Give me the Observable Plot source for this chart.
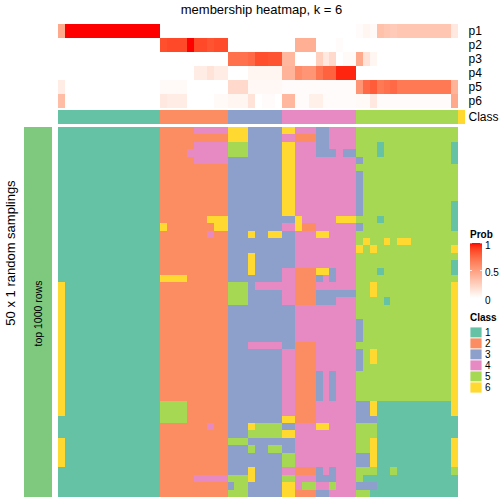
<!DOCTYPE html>
<html><head><meta charset="utf-8">
<script src="https://cdn.jsdelivr.net/npm/d3@7"></script>
<script src="https://cdn.jsdelivr.net/npm/@observablehq/plot@0.6"></script>
<style>
html,body{margin:0;padding:0;background:#fff;}
#root{position:relative;width:504px;height:504px;overflow:hidden;font-family:"Liberation Sans",Arial,sans-serif;}
</style></head><body><div id="root"></div>
<script>
const title = "membership heatmap, k = 6";
const rowTitle = "50 x 1 random samplings";
const sliceTitle = "top 1000 rows";
const probRows = ["p1","p2","p3","p4","p5","p6"];
const classes = ["1","2","3","4","5","6"];
const classColors = ["#66C2A5","#FC8D62","#8DA0CB","#E78AC3","#A6D854","#FFD92F"];
const probTicks = [0, 0.5, 1];
const sampleClass = "111111111111111222222222233333333444444444445555555555555556";

const p1 = [0.45,1,1,1,1,1,1,1,1,1,1,1,1,1,1,
  0,0,0,0,0,0,0,0,0,0,0,0,0,0,0,0,0,0,0,0,0,0,0,0,0,0,0,0,0,
  0.02,0.05,0.03,0.33,0.3,0.28,0.3,0.3,0.3,0.3,0.3,0.3,0.3,0.3,0.12];
const p2 = [0,0,0,0,0,0,0,0,0,0,0,0,0,0,0,
  0.85,0.87,0.87,0.87,1,0.87,0.87,0.83,0.86,0.86,
  0,0,0,0,0,0,0,0,0,0,
  0.42,0.42,0.42,0,0,0,0.02,
  0,0,0,0,0,0,0,0,0,0,0,0,0,0,0,0,0];
const p3 = [0,0,0,0,0,0,0,0,0,0,0,0,0,0,0,0,0,0,0,0,0,0,0,0,0,
  0.72,0.72,0.72,0.75,0.85,0.85,0.83,0.83,
  0.38,0.38,0,0,0,0.25,0.12,0.2,0,0.03,0.03,
  0.45,0.15,0.05,0,0,0,0,0,0,0,0,0,0,0,0];
const p4 = [0,0,0,0,0,0,0,0,0,0,0,0,0,0,0,0,0,0,0,0,
  0.1,0.1,0.15,0.1,0.1,0,0,0,0.05,0.05,0.05,0.05,0.05,
  0.4,0.4,0.6,0.55,0.55,0.7,0.78,0.78,0.96,0.96,0.96,
  0,0,0,0,0,0,0,0,0,0,0,0,0,0,0];
const p5 = [0.1,0,0,0,0,0,0,0,0,0,0,0,0,0,0,
  0.03,0.03,0.03,0.03,0,0,0,0,0,0,
  0.2,0.2,0.2,0.04,0.04,0.04,0.04,0.04,
  0.02,0.02,0.02,0.02,0.02,0.02,0.02,0.02,0.02,0.02,0.02,
  0.55,0.75,0.8,0.68,0.72,0.75,0.68,0.68,0.68,0.68,0.68,0.68,0.68,0.68,0.4];
const p6 = [0.35,0,0,0,0,0,0,0,0,0,0,0,0,0,0,
  0.12,0.1,0.1,0.1,0,0,0,0,0.03,0.03,
  0.05,0.05,0.05,0.15,0,0.02,0.02,0,
  0.38,0.38,0.02,0.02,0.08,0.08,0.02,0.02,0.02,0.02,0.02,
  0.03,0.03,0.12,0.02,0.02,0.02,0.02,0.02,0.02,0.02,0.02,0.02,0.02,0.02,0.45];

const samplings = [
"111111111111111|2222244444|66633333|66444334444|55555555555555|5",
"111111111111111|2222222222|66633333|44222334444|55555555555555|5",
"111111111111111|2222244444|55533333|66444334444|55515555555555|1",
"111111111111111|2222444444|55533333|66444333433|55515555555555|1",
"111111111111111|2222244444|33333333|66444444444|35555555555555|1",
"111111111111111|2222222222|33333333|66444444444|55555555555555|5",
"111111111111111|2222222222|33333333|66444444444|35555555555555|5",
"111111111111111|2222222222|33333333|66444444444|35555555555555|5",
"111111111111111|2222222222|33333333|66444444444|35555555555555|5",
"111111111111111|2222222222|33333333|66444444444|35555555555555|5",
"111111111111111|2222222222|33333333|66444444444|35555555555555|1",
"111111111111111|2222222222|33333333|66444444444|35555555555555|1",
"111111111111111|2222222666|33333333|33644444666|55515555555555|1",
"111111111111111|6222222266|33333333|44622444444|35555555555555|1",
"111111111111111|2222222422|33363366|33444664444|55555555555555|5",
"111111111111111|2222222222|33333333|33444444444|56556566555555|5",
"111111111111111|2222222222|33333333|33444444444|65655555555555|6",
"111111111111111|2222222222|33363333|33444444444|55555555555555|5",
"111111111111111|2222222222|33363333|33444444444|55555555555555|1",
"111111111111111|2222222222|33363333|44222663444|55515555555555|1",
"111111111111111|6666222222|33333333|44222343444|55555555555555|5",
"611111111111111|2222222222|55534444|44222444444|55655555555555|6",
"611111111111111|2222222222|55533333|44222333333|55655555555555|6",
"611111111111111|2222222222|55533333|44222333444|55551555555555|6",
"611111111111111|2222222222|33333333|33444444444|55555555555555|6",
"611111111111111|2222222222|33333333|33444444444|55555555555555|6",
"611111111111111|2222222222|33333333|33444444444|35555555555555|6",
"611111111111111|2222222222|33333333|33444444444|35555555555555|6",
"611111111111111|2222222222|33333333|33444444444|35555555555555|6",
"611111111111111|2222222222|33344444|33222444444|55555555555555|6",
"611111111111111|2222222222|33333333|44222444444|35655555555555|6",
"611111111111111|2222222222|33333333|44222444444|35655555555555|6",
"611111111111111|2222222222|33333333|44222444444|35555555555555|6",
"611111111111111|2222222222|33333333|44222343444|55555555555555|6",
"611111111111111|2222222222|33333333|44222343444|55555555555555|6",
"611111111111111|2222222222|33333333|44222343444|55555555555555|6",
"611111111111111|2222222222|33333333|44222343444|55555555555555|6",
"611111111111111|5555222222|33333333|44222444444|33611111111111|6",
"611111111111111|5555222222|33333333|44222444444|33611111111111|6",
"111111111111111|5555222222|33333333|66222444444|33311111111111|1",
"111111111111111|2222222422|33365555|33444664444|55511111111111|1",
"111111111111111|2222222222|33355555|66444444444|55511111111111|1",
"611111111111111|2222222222|55533333|33444444444|55611111111111|6",
"611111111111111|2222222222|33353355|33444444444|55611111111111|6",
"611111111111111|2222222222|33333333|55444444444|33611111111111|6",
"611111111111111|2222222222|33333333|55444444444|33611111111111|6",
"111111111111111|2222222222|33363333|44222343444|55511511111111|5",
"111111111111111|2222244444|55563333|55444333444|51111111111111|1",
"111111111111111|2222222222|35533333|66455445444|33311111111111|1",
"111111111111111|2222222222|55533333|66222334444|55111111111111|1"
];

const root = document.getElementById("root");
const font = "'Liberation Sans', Arial, sans-serif";
const W = 504, L = 58, R = 39;
const nCols = sampleClass.length;
const colIdx = d3.range(nCols);
const xOpt = {type: "band", domain: colIdx, padding: 0, round: false, axis: null};
const classColor = {type: "ordinal", domain: classes, range: classColors};
const probColor = {type: "linear", domain: [0, 1], range: ["white", "red"], interpolate: "lab"};

function place(el, top, left = 0) {
  el.style.position = "absolute";
  el.style.top = top + "px";
  el.style.left = left + "px";
  root.append(el);
}

// probability annotation rows
const probArrays = [p1, p2, p3, p4, p5, p6];
const probData = [];
probArrays.forEach((arr, i) => arr.forEach((v, j) => probData.push({row: probRows[i], col: j, value: v})));
place(Plot.plot({
  width: W, height: 84, marginTop: 0, marginBottom: 0, marginLeft: L, marginRight: R,
  x: xOpt,
  y: {type: "band", domain: probRows, padding: 0, round: false, axis: "right", tickSize: 0, tickPadding: 3, label: null},
  color: probColor,
  style: {fontFamily: font, fontSize: "12px", background: "transparent", overflow: "visible", color: "black"},
  marks: [Plot.cell(probData, {x: "col", y: "row", fill: "value", inset: 0, shapeRendering: "crispEdges"})]
}), 24);

// class annotation row
const classData = colIdx.map(j => ({row: "Class", col: j, cls: sampleClass[j]}));
place(Plot.plot({
  width: W, height: 14, marginTop: 0, marginBottom: 0, marginLeft: L, marginRight: R,
  x: xOpt,
  y: {type: "band", domain: ["Class"], padding: 0, round: false, axis: "right", tickSize: 0, tickPadding: 3, label: null},
  color: classColor,
  style: {fontFamily: font, fontSize: "12px", background: "transparent", overflow: "visible", color: "black"},
  marks: [Plot.cell(classData, {x: "col", y: "row", fill: "cls", inset: 0, shapeRendering: "crispEdges"})]
}), 110);

// main membership heatmap
const mainData = [];
samplings.forEach((s, i) => {
  const r = s.replace(/\|/g, "");
  for (let j = 0; j < r.length; j++) mainData.push({row: i, col: j, cls: r[j]});
});
place(Plot.plot({
  width: W, height: 370, marginTop: 0, marginBottom: 0, marginLeft: L, marginRight: R,
  x: xOpt,
  y: {type: "band", domain: d3.range(samplings.length), padding: 0, round: false, axis: null},
  color: classColor,
  style: {background: "transparent"},
  marks: [Plot.cell(mainData, {x: "col", y: "row", fill: "cls", inset: 0, shapeRendering: "crispEdges"})]
}), 127);

// row slice annotation
place(Plot.plot({
  width: 52, height: 370, marginTop: 0, marginBottom: 0, marginLeft: 24, marginRight: 0,
  x: {type: "band", domain: [sliceTitle], padding: 0, axis: null},
  style: {fontFamily: font, background: "transparent", color: "black"},
  marks: [
    Plot.cell([sliceTitle], {x: d => d, fill: "#7FC97F", inset: 0}),
    Plot.text([sliceTitle], {x: d => d, text: d => d, frameAnchor: "middle", rotate: -90, fontSize: 10.5, fill: "black", dy: 1})
  ]
}), 127);

// overlay: titles and legends
const svg = d3.create("svg").attr("width", W).attr("height", W)
  .style("position", "absolute").style("top", "0px").style("left", "0px")
  .style("font-family", font).style("pointer-events", "none");
svg.append("text").attr("x", (L + W - R) / 2).attr("y", 14).attr("text-anchor", "middle")
  .attr("font-size", 13).text(title);
svg.append("text").attr("transform", "translate(15,253) rotate(-90)").attr("text-anchor", "middle")
  .attr("font-size", 13).text(rowTitle);

// Prob legend
const lx = 470, lw = 12;
svg.append("text").attr("x", lx).attr("y", 238).attr("font-size", 10).attr("font-weight", "bold").text("Prob");
const grad = svg.append("defs").append("linearGradient").attr("id", "pg").attr("x1", 0).attr("x2", 0).attr("y1", 1).attr("y2", 0);
const interp = d3.interpolateLab("white", "red");
d3.range(0, 1.0001, 0.05).forEach(t => grad.append("stop").attr("offset", t).attr("stop-color", interp(t)));
const gy = d3.scaleLinear([0, 1], [298, 243]);
svg.append("rect").attr("x", lx).attr("y", gy(1)).attr("width", lw).attr("height", gy(0) - gy(1)).attr("fill", "url(#pg)");
probTicks.forEach(t => {
  const y = gy(t);
  svg.append("line").attr("x1", lx).attr("x2", lx + 2).attr("y1", y).attr("y2", y).attr("stroke", "white").attr("stroke-width", 0.8);
  svg.append("line").attr("x1", lx + lw - 2).attr("x2", lx + lw).attr("y1", y).attr("y2", y).attr("stroke", "white").attr("stroke-width", 0.8);
});
const ly = d3.scaleLinear([0, 1], [300, 245.5]);
probTicks.forEach(t => svg.append("text").attr("x", lx + lw + 3).attr("y", ly(t)).attr("dy", "0.35em")
  .attr("font-size", 10).text(String(t)));

// Class legend
svg.append("text").attr("x", lx).attr("y", 321).attr("font-size", 10).attr("font-weight", "bold").text("Class");
classes.forEach((c, i) => {
  const y = 327 + i * 11;
  svg.append("rect").attr("x", lx).attr("y", y).attr("width", lw).attr("height", 11)
    .attr("fill", classColors[i]).attr("stroke", "white").attr("stroke-width", 0.8);
  svg.append("text").attr("x", lx + lw + 3).attr("y", y + 5.5).attr("dy", "0.35em").attr("font-size", 10).text(c);
});
root.append(svg.node());
</script></body></html>
